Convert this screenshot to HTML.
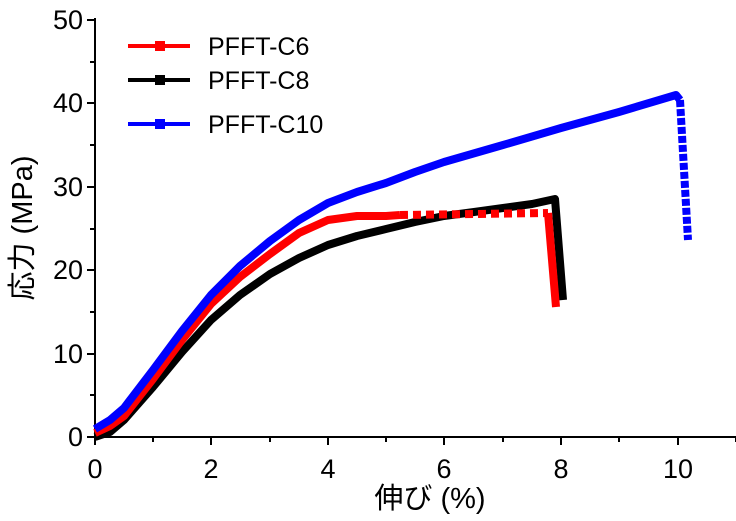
<!DOCTYPE html>
<html><head><style>body{margin:0;background:#fff}svg{display:block}text{font-family:"Liberation Sans","Noto Sans CJK JP",sans-serif}</style></head><body>
<svg width="736" height="521" viewBox="0 0 736 521">
<g stroke="#000" stroke-width="2" fill="none">
<line x1="95" y1="18" x2="95" y2="437"/>
<line x1="95" y1="437" x2="736" y2="437"/>
<path d="M95,437v8M153,437v5M211,437v8M270,437v5M328,437v8M386,437v5M444,437v8M503,437v5M561,437v8M619,437v5M678,437v8M736,437v5"/>
<path d="M95,437h-8M95,395h-5M95,354h-8M95,312h-5M95,270h-8M95,229h-5M95,187h-8M95,145h-5M95,103h-8M95,62h-5M95,20h-8"/>
</g>
<g font-size="27" text-anchor="end" fill="#000">
<text x="83" y="446">0</text><text x="83" y="363">10</text><text x="83" y="279">20</text><text x="83" y="196">30</text><text x="83" y="112">40</text><text x="83" y="29">50</text>
</g>
<g font-size="27" text-anchor="middle">
<text x="95" y="478">0</text><text x="211" y="478">2</text><text x="328" y="478">4</text><text x="444" y="478">6</text><text x="561" y="478">8</text><text x="678" y="478">10</text>
</g>
<text x="430" y="508" font-size="29" text-anchor="middle">伸び (%)</text>
<text transform="translate(32,228) rotate(-90)" font-size="29" text-anchor="middle">応力 (MPa)</text>
<g fill="none" stroke-width="8" stroke-linejoin="round">
<polyline stroke="#000" points="95,437 110,432 124,420 153,387 182,352 211,320 240,295 270,274 299,258 328,245 357,236 386,229 415,222 444,216 474,212 503,208 532,204 555,199 563,300"/>
<polyline stroke="#f00" points="95,433 110,426 124,416 153,379 182,340 211,304 240,277 270,254 299,233 328,220 357,216 386,216 400,215"/>
<polyline stroke="#f00" stroke-dasharray="8,5" points="400,215 548,213"/>
<polyline stroke="#f00" points="548,213 556,307"/>
<polyline stroke="#00f" points="95,429 110,420 124,408 153,370 182,331 211,295 240,266 270,241 299,220 328,203 357,192 386,183 415,172 444,162 503,145 561,128 619,112 676,95 680,100"/>
<polyline stroke="#00f" stroke-dasharray="7,2" points="680,100 688,240"/>
</g>
<g stroke-width="4">
<line x1="128" y1="46" x2="190" y2="46" stroke="#f00"/><rect x="155" y="41" width="10" height="10" fill="#f00"/>
<line x1="128" y1="80" x2="190" y2="80" stroke="#000"/><rect x="155" y="75" width="10" height="10" fill="#000"/>
<line x1="128" y1="124" x2="190" y2="124" stroke="#00f"/><rect x="155" y="119" width="10" height="10" fill="#00f"/>
</g>
<g font-size="25">
<text x="208" y="55">PFFT-C6</text><text x="208" y="89">PFFT-C8</text><text x="208" y="133">PFFT-C10</text>
</g>
</svg>
</body></html>
